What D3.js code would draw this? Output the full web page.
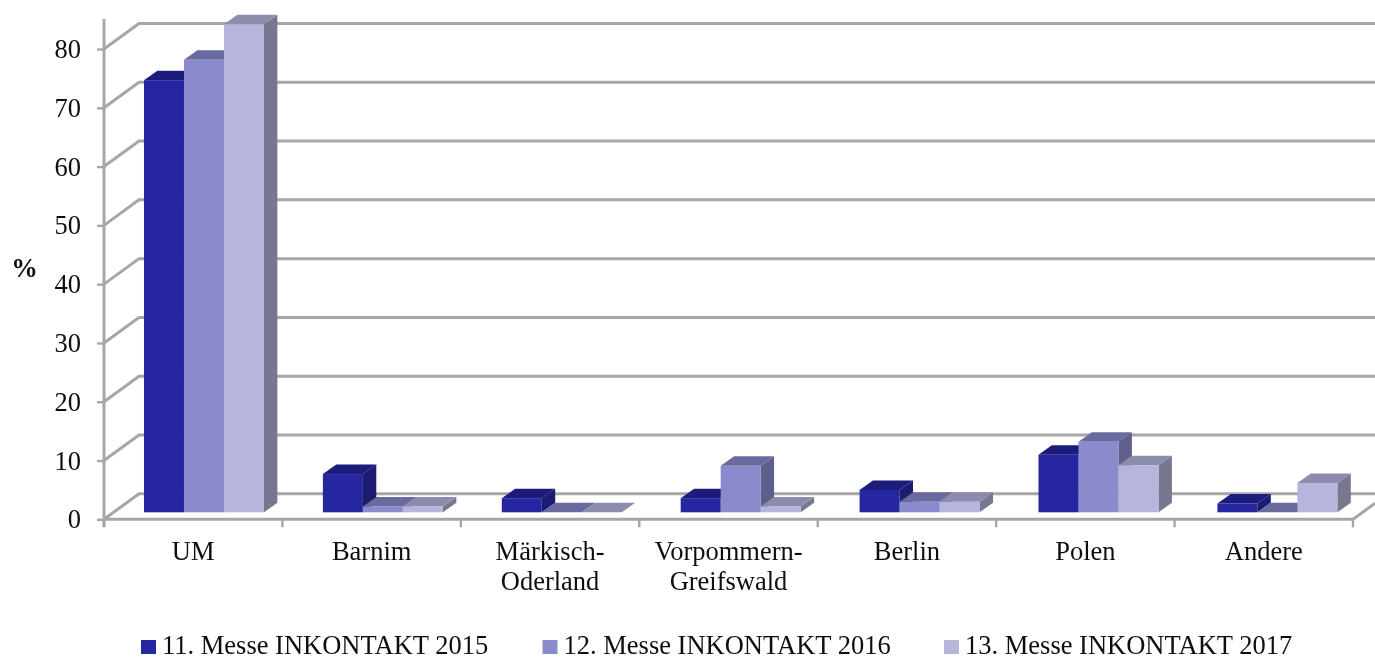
<!DOCTYPE html>
<html><head><meta charset="utf-8">
<script src="https://cdn.jsdelivr.net/npm/d3@7"></script>
<style>
html,body{margin:0;padding:0;background:#fff;overflow:hidden}
text{font-family:"Liberation Serif",serif;fill:#111}
</style></head><body>
<svg id="c" width="1375" height="659"></svg>
<script>
const categories = ["UM","Barnim","Märkisch-\nOderland","Vorpommern-\nGreifswald","Berlin","Polen","Andere"];
const seriesNames = ["11. Messe INKONTAKT 2015","12. Messe INKONTAKT 2016","13. Messe INKONTAKT 2017"];
const values2015 = [73.5,6.5,2.4,2.4,3.8,9.8,1.5];
const values2016 = [77,1,0,7.9,1.8,12,0];
const values2017 = [83,1,0,1,1.8,8,5];
const yTicks = [0,10,20,30,40,50,60,70,80];
const frontColors = ["#2626a0","#8a8acd","#b6b6dd"];
const topColors = ["#1d1d7c","#6a6a9f","#8c8cad"];
const sideColors = ["#1a1a70","#5f5f8c","#77778f"];

const allValues = [values2015,values2016,values2017];
const svg = d3.select("#c");
const defs = svg.append("defs");
defs.append("filter").attr("id","soft").attr("x","-5%").attr("y","-5%").attr("width","110%").attr("height","110%")
  .append("feGaussianBlur").attr("stdDeviation",0.6);
const txtF = defs.append("filter").attr("id","softT");
txtF.append("feGaussianBlur").attr("stdDeviation",0.3);

const y = d3.scaleLinear().domain([0,80]).range([519.3,49]);
const x = d3.scaleBand().domain(categories).range([104,1353]);
const xBars = d3.scaleBand().domain(categories).range([104,1356.3]);
const inner = d3.scaleBand().domain([0,1,2]).range([0,xBars.bandwidth()]).paddingInner(0).paddingOuter(0.736).align(0.679);
const wallDx = 35, wallDy = 25.5, depthDx = 13.4, depthDy = 9.5, floorShift = 7, right = 1375;
const grey = "#a6a6a6";

const g = svg.append("g").attr("filter","url(#soft)");
// back wall
yTicks.forEach(v=>{
  g.append("path").attr("fill","none").attr("stroke",grey).attr("stroke-width",3)
   .attr("d",d3.line()([[104,y(v)],[104+wallDx,y(v)-wallDy],[right,y(v)-wallDy]]));
});
g.append("path").attr("fill","none").attr("stroke",grey).attr("stroke-width",3)
   .attr("d",d3.line()([[1353,y(0)],[right,y(0)-16]]));

// axes
const axL = g.append("g").attr("transform","translate(104,0)")
  .call(d3.axisLeft(y).tickValues(yTicks).tickSize(7).tickPadding(5).tickFormat(""));
axL.select(".domain").remove();
axL.selectAll("line").attr("stroke",grey).attr("stroke-width",2.4);
g.append("line").attr("x1",104).attr("x2",104).attr("y1",19).attr("y2",527).attr("stroke",grey).attr("stroke-width",3);
const axB = g.append("g").attr("transform",`translate(0,${y(0)})`)
  .call(d3.axisBottom(x).tickSize(0).tickFormat(""));
axB.select(".domain").attr("stroke",grey).attr("stroke-width",3).attr("d",`M104,0H1353`);
axB.selectAll(".tick").remove();
const edges = [...categories.map(c=>x(c)), 1353];
g.selectAll(".xt").data(edges).join("line").attr("class","xt")
  .attr("x1",d=>d).attr("x2",d=>d).attr("y1",y(0)).attr("y2",y(0)+8)
  .attr("stroke",grey).attr("stroke-width",2.4);

// bars
const w = inner.bandwidth();
categories.forEach((c,ci)=>{
  [0,1,2].forEach(s=>{
    const v = allValues[s][ci];
    const x0 = xBars(c)+inner(s), x1 = x0+w;
    const b = y(0)-floorShift, t = y(v)-floorShift;
    const bar = g.append("g");
    bar.append("path").attr("fill",sideColors[s])
      .attr("d",d3.line()([[x1,t],[x1+depthDx,t-depthDy],[x1+depthDx,b-depthDy],[x1,b]])+"Z");
    bar.append("path").attr("fill",topColors[s])
      .attr("d",d3.line()([[x0,t],[x0+depthDx,t-depthDy],[x1+depthDx,t-depthDy],[x1,t]])+"Z");
    bar.append("rect").attr("x",x0).attr("y",t).attr("width",w).attr("height",Math.max(b-t,0)).attr("fill",frontColors[s]);
  });
});

// text
const T = svg.append("g").attr("filter","url(#softT)");
const fs = 26.5;
yTicks.forEach(v=>{
  T.append("text").attr("x",81).attr("y",y(v)+9).attr("text-anchor","end").attr("font-size",fs).text(v);
});
categories.forEach(c=>{
  c.split("\n").forEach((ln,i)=>{
    T.append("text").attr("x",x(c)+x.bandwidth()/2).attr("y",560+i*30).attr("text-anchor","middle").attr("font-size",fs).text(ln);
  });
});
T.append("text").attr("x",24.5).attr("y",277).attr("text-anchor","middle").attr("font-size",fs).attr("font-weight","bold").text("%");
const legendX = d3.scalePoint().domain(seriesNames).range([141,944]);
seriesNames.forEach((n,i)=>{
  g.append("rect").attr("x",legendX(n)).attr("y",640).attr("width",15).attr("height",14).attr("fill",frontColors[i]);
  T.append("text").attr("x",legendX(n)+21).attr("y",653.5).attr("font-size",fs).text(n);
});
</script></body></html>
